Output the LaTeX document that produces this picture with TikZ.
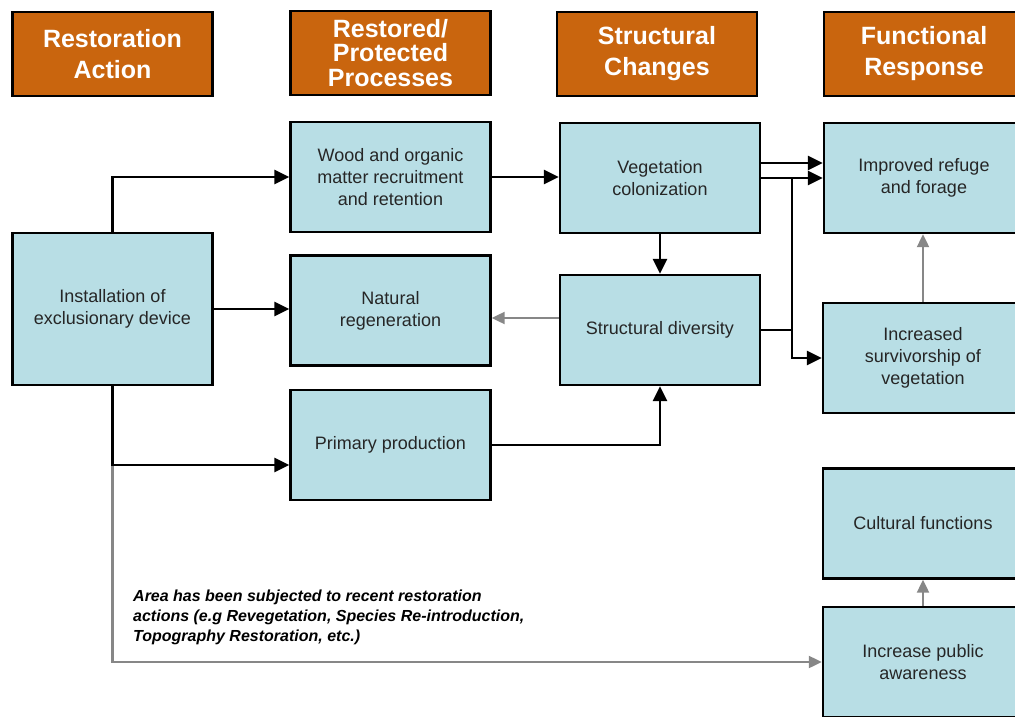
\documentclass[tikz,border=0pt]{standalone}
\usepackage{fontspec}
\setmainfont{Liberation Sans}
\usepackage{tikz}
\usepackage{xcolor}
\usetikzlibrary{arrows.meta}
\definecolor{hdrorange}{RGB}{201,101,14}
\definecolor{boxblue}{RGB}{184,222,229}
\definecolor{arrgray}{RGB}{135,135,135}

\begin{document}
\begin{tikzpicture}[x=1pt,y=-1pt,
  hdr/.style={draw=black,line width=2.4pt,fill=hdrorange,text=white,minimum width=200pt,minimum height=84pt,inner sep=0pt,align=center,font=\fontsize{25}{31}\selectfont\bfseries},
  blk/.style={draw=black,line width=2.4pt,fill=boxblue,text=black!85,minimum width=200pt,minimum height=110pt,inner sep=0pt,align=center,font=\fontsize{18}{22}\selectfont},
  arr/.style={line width=2.8pt,-{Triangle[length=15pt,width=14pt]}},
  garr/.style={line width=2.2pt,arrgray,-{Triangle[length=13pt,width=12pt]}}]
\useasboundingbox (0,0) rectangle (1015,717);
\node[hdr] (hAct) at (112.5,54) {Restoration\\Action};
\node[hdr,font=\fontsize{25}{24.5}\selectfont\bfseries] (hProc) at (390.5,53) {Restored/\\Protected\\Processes};
\node[hdr] (hStruct) at (657,54) {Structural\\Changes};
\node[hdr] (hFunc) at (924,54) {Functional\\Response};
\node[blk,minimum height=152pt] (inst) at (112.5,309) {Installation of\\exclusionary device};
\node[blk] (wood) at (390.5,177) {Wood and organic\\matter recruitment\\and retention};
\node[blk] (natreg) at (390.5,310.5) {Natural\\regeneration};
\node[blk] (primprod) at (390.5,445) {Primary production};
\node[blk] (vegcol) at (660,178) {Vegetation\\colonization};
\node[blk] (strdiv) at (660,330) {Structural diversity};
\node[blk] (refuge) at (924,178) {Improved refuge\\and forage};
\node[blk] (surviv) at (923,358) {Increased\\survivorship of\\vegetation};
\node[blk] (cultural) at (923,523.5) {Cultural functions};
\node[blk] (aware) at (923,662) {Increase public\\awareness};
\node[anchor=west,align=left,inner sep=0pt,font=\fontsize{16}{20}\selectfont\bfseries\itshape] (note) at (133,617) {Area has been subjected to recent restoration\\actions (e.g Revegetation, Species Re-introduction,\\Topography Restoration, etc.)};
\coordinate (bend) at (792,178);
\draw[garr] (inst.south) |- (aware.west);
\draw[arr] (inst.north) |- (wood.west);
\draw[arr] (inst.east) -- (inst.east -| natreg.west);
\draw[arr] (inst.south) |- ([yshift=-20pt]primprod.west);
\draw[arr] (wood.east) -- (wood.east -| vegcol.west);
\draw[arr] (vegcol.south) -- (strdiv.north);
\draw[garr] ([yshift=12pt]strdiv.west) -- ([yshift=12pt]strdiv.west -| natreg.east);
\draw[arr] (primprod.east) -| (strdiv.south);
\draw[arr] ([yshift=15pt]vegcol.east) -- ([yshift=15pt]vegcol.east -| refuge.west);
\draw[arr] (vegcol.east) -- (refuge.west);
\draw[line width=2.8pt] (strdiv.east) -| (bend);
\draw[arr] (strdiv.east -| bend) |- (surviv.west);
\draw[garr] (surviv.north) -- (surviv.north |- refuge.south);
\draw[garr] (aware.north) -- (cultural.south);
\end{tikzpicture}
\end{document}
